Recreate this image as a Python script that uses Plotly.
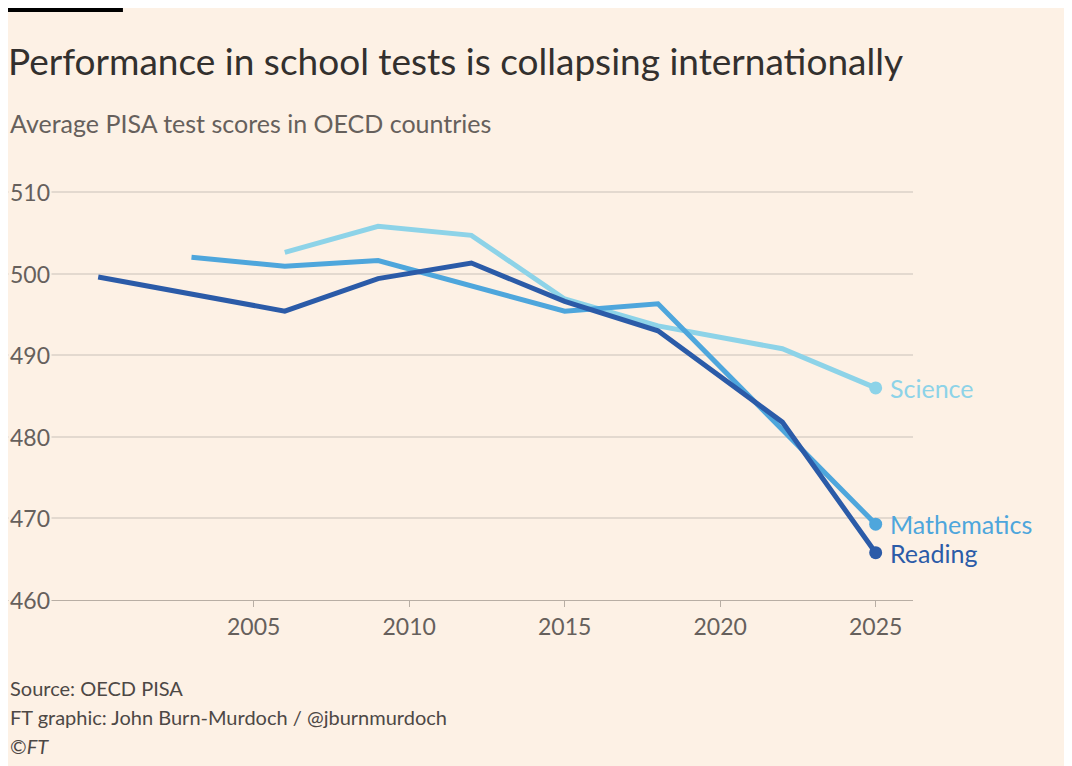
import plotly.graph_objs as go

# Average PISA scores, OECD
years_reading = [2000, 2006, 2009, 2012, 2015, 2018, 2022, 2025]
reading = [499.6, 495.4, 499.4, 501.3, 496.6, 493.0, 481.8, 465.8]

years_math = [2003, 2006, 2009, 2012, 2015, 2018, 2022, 2025]
maths = [502.0, 500.9, 501.6, 498.5, 495.4, 496.3, 480.9, 469.3]

years_science = [2006, 2009, 2012, 2015, 2018, 2022, 2025]
science = [502.6, 505.8, 504.7, 496.9, 493.6, 490.8, 486.0]

x_ticks = [2005, 2010, 2015, 2020, 2025]
y_ticks = [460, 470, 480, 490, 500, 510]

series = [
    ("Science", years_science, science, "#8dd3e8"),
    ("Mathematics", years_math, maths, "#4ea6dc"),
    ("Reading", years_reading, reading, "#2b5ba8"),
]

FONT = "Lato"
bg = "#fdf1e5"

fig = go.Figure()
for name, xs, ys, cor in series:
    fig.add_trace(go.Scatter(x=xs, y=ys, mode="lines", line=dict(color=cor, width=5),
                             name=name, showlegend=False))
    fig.add_trace(go.Scatter(x=[xs[-1]], y=[ys[-1]], mode="markers",
                             marker=dict(color=cor, size=13), showlegend=False))
    fig.add_annotation(x=xs[-1], y=ys[-1], text=name, showarrow=False, xanchor="left", xshift=12,
                       font=dict(family=FONT, size=25, color=cor))

# y labels sit over the gridlines at the left edge
for v in y_ticks:
    fig.add_annotation(xref="paper", x=0, y=v, text=str(v), showarrow=False,
                       xanchor="left", yanchor="middle", bgcolor=bg,
                       font=dict(family=FONT, size=23, color="#66605c"))

fig.add_shape(type="rect", xref="paper", yref="paper", x0=0, x1=0.127, y0=1.427, y1=1.437,
              fillcolor="black", line_width=0)

fig.update_layout(
    width=1064, height=758,
    paper_bgcolor=bg, plot_bgcolor=bg,
    margin=dict(l=0, r=159, t=180, b=166),
    font=dict(family=FONT, color="#66605c"),
    title=dict(text="Performance in school tests is collapsing internationally",
               x=0.0, xanchor="left", y=0.929, yanchor="middle",
               font=dict(family=FONT, size=37, color="#33302e")),
    xaxis=dict(range=[1997.1, 2026.2], tickvals=x_ticks, showgrid=False,
               tickfont=dict(size=23, color="#66605c"), ticks="outside",
               ticklen=6, tickcolor="#b8aea4", showline=True, linecolor="#b8aea4"),
    yaxis=dict(range=[460, 510.5], tickvals=y_ticks, showticklabels=False,
               gridcolor="#e3d9cf", gridwidth=1.5, zeroline=False),
)

fig.add_annotation(xref="paper", yref="paper", x=0.0, y=1.158, xanchor="left", yanchor="middle",
                   text="Average PISA test scores in OECD countries", showarrow=False,
                   font=dict(family=FONT, size=25, color="#66605c"))

footer = ["Source: OECD PISA", "FT graphic: John Burn-Murdoch / @jburnmurdoch", "©<i>FT</i>"]
for i, line in enumerate(footer):
    fig.add_annotation(xref="paper", yref="paper", x=0.0, y=(600 - (688 + 29 * i)) / 412,
                       xanchor="left", yanchor="middle", text=line, showarrow=False,
                       font=dict(family=FONT, size=20, color="#4d4845"))

fig.write_html("out.html")
